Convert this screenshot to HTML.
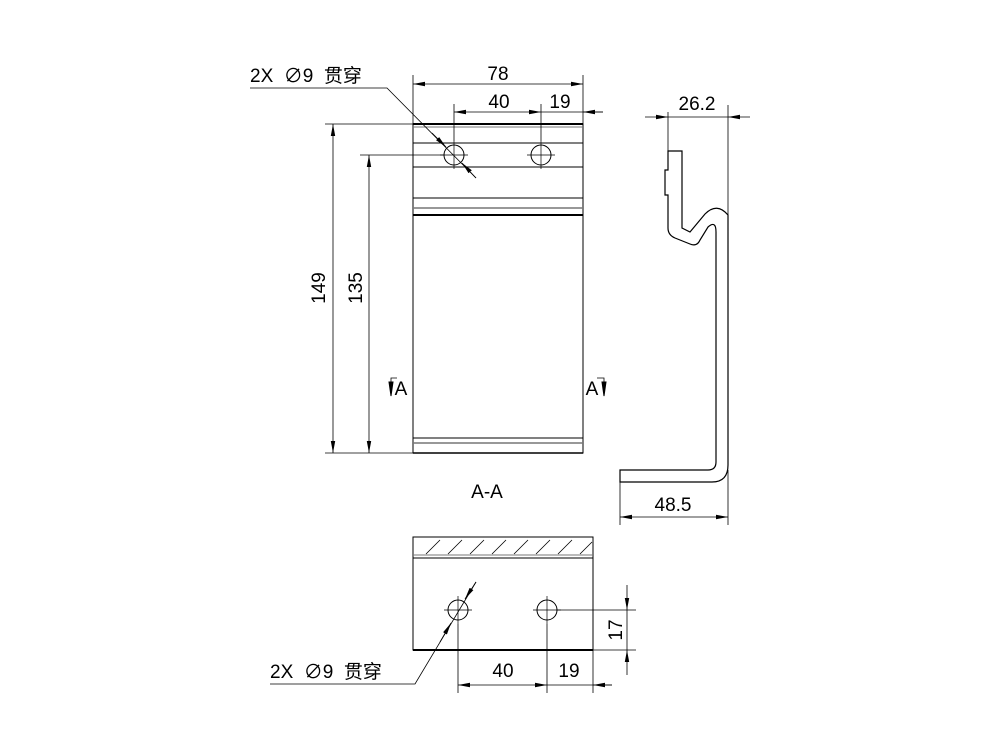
<!DOCTYPE html>
<html><head><meta charset="utf-8"><style>
body{margin:0;background:#fff}
svg{display:block}
text{font-family:"Liberation Sans","Noto Sans CJK SC",sans-serif;font-size:19px;fill:#000}
</style></head><body>
<svg width="1000" height="750" viewBox="0 0 1000 750">
<defs>
<marker id="a" viewBox="0 0 12 6" refX="12" refY="3" markerWidth="12" markerHeight="6" markerUnits="userSpaceOnUse" orient="auto-start-reverse"><path d="M0,0.8 L12,3 L0,5.2Z" fill="#000"/></marker>
</defs>
<g stroke="#000" fill="none" stroke-width="1">
<rect x="413" y="124" width="170" height="329"/>
<line x1="413" y1="124" x2="583" y2="124" stroke-width="2"/>
<line x1="413" y1="127" x2="583" y2="127" stroke="#777"/>
<line x1="413" y1="143" x2="583" y2="143"/>
<line x1="413" y1="167" x2="583" y2="167"/>
<line x1="413" y1="198" x2="583" y2="198"/>
<line x1="413" y1="208" x2="583" y2="208" stroke="#777" stroke-width="1.5"/>
<line x1="413" y1="215" x2="583" y2="215" stroke-width="2"/>
<line x1="413" y1="438" x2="583" y2="438"/>
<line x1="413" y1="443" x2="583" y2="443" stroke="#777" stroke-width="1.5"/>
<line x1="413" y1="453" x2="583" y2="453" stroke-width="1.5"/>
<circle cx="454" cy="155" r="10"/><circle cx="541" cy="155" r="10"/>
<path d="M440,155h28M454,141v28M527,155h28M541,141v28" stroke-width="0.7"/>
<line x1="413" y1="75" x2="413" y2="124" stroke-width="0.8"/>
<line x1="583" y1="75" x2="583" y2="124" stroke-width="0.8"/>
<line x1="454" y1="104" x2="454" y2="141" stroke-width="0.8"/>
<line x1="541" y1="104" x2="541" y2="141" stroke-width="0.8"/>
<line x1="413" y1="84" x2="583" y2="84" marker-start="url(#a)" marker-end="url(#a)" stroke-width="0.8"/>
<line x1="454" y1="112" x2="541" y2="112" marker-start="url(#a)" marker-end="url(#a)" stroke-width="0.8"/>
<line x1="541" y1="112" x2="603" y2="112" stroke-width="0.8"/>
<line x1="603" y1="112" x2="583" y2="112" marker-end="url(#a)" stroke-width="0.8"/>
<line x1="325" y1="124" x2="413" y2="124" stroke-width="0.8"/>
<line x1="360" y1="155" x2="444" y2="155" stroke-width="0.8"/>
<line x1="325" y1="453" x2="413" y2="453" stroke-width="0.8"/>
<line x1="333" y1="124" x2="333" y2="453" marker-start="url(#a)" marker-end="url(#a)" stroke-width="0.8"/>
<line x1="369" y1="155" x2="369" y2="453" marker-start="url(#a)" marker-end="url(#a)" stroke-width="0.8"/>
<polyline points="250,88 387,88 476,178" stroke-width="0.8"/>
<line x1="432" y1="133" x2="446" y2="147" marker-end="url(#a)" stroke-width="0.8"/>
<line x1="476" y1="178" x2="462" y2="163" marker-end="url(#a)" stroke-width="0.8"/>
<path d="M397,378h-6v18M597,378h7v18" stroke-width="0.8"/>
<path d="M389,382l2,14l2,-14z M602,382l2,14l2,-14z" fill="#000"/>
<path d="M668,151 L682,151 L682,228 L690,232 L705,214 Q717,202 728,215 L728,465 Q728,482 712,482 L620,482 L620,470 L708,470 Q716,470 716,462 L716,232 Q716,220 708,227 L700,240 Q697,247 690,244 L675,238 Q668,235 668,228 L668,195 L665,195 L665,170 L668,170 Z" stroke-width="1.2"/>
<line x1="668" y1="112" x2="668" y2="151" stroke-width="0.8"/>
<line x1="728" y1="105" x2="728" y2="215" stroke-width="0.8"/>
<line x1="645" y1="117" x2="668" y2="117" marker-end="url(#a)" stroke-width="0.8"/>
<line x1="668" y1="117" x2="728" y2="117" stroke-width="0.8"/>
<line x1="750" y1="117" x2="728" y2="117" marker-end="url(#a)" stroke-width="0.8"/>
<line x1="620" y1="482" x2="620" y2="525" stroke-width="0.8"/>
<line x1="728" y1="470" x2="728" y2="525" stroke-width="0.8"/>
<line x1="620" y1="517" x2="728" y2="517" marker-start="url(#a)" marker-end="url(#a)" stroke-width="0.8"/>
<rect x="413" y="537" width="180" height="113"/>
<line x1="413" y1="650" x2="593" y2="650" stroke-width="2"/>
<line x1="413" y1="555" x2="593" y2="555" stroke="#777"/>
<line x1="413" y1="558" x2="593" y2="558"/>
<path d="M426,554l14,-14M448,554l14,-14M470,554l14,-14M492,554l14,-14M514,554l14,-14M536,554l14,-14M558,554l14,-14M580,554l12,-12" stroke-width="0.8"/>
<circle cx="458" cy="610" r="10"/><circle cx="547" cy="610" r="10"/>
<path d="M444,610h28M458,596v28M533,610h28M547,596v28" stroke-width="0.7"/>
<line x1="557" y1="610" x2="636" y2="610" stroke-width="0.8"/>
<line x1="593" y1="650" x2="636" y2="650" stroke-width="0.8"/>
<line x1="627" y1="585" x2="627" y2="610" marker-end="url(#a)" stroke-width="0.8"/>
<line x1="627" y1="610" x2="627" y2="650" stroke-width="0.8"/>
<line x1="627" y1="675" x2="627" y2="650" marker-end="url(#a)" stroke-width="0.8"/>
<line x1="458" y1="624" x2="458" y2="693" stroke-width="0.8"/>
<line x1="547" y1="624" x2="547" y2="693" stroke-width="0.8"/>
<line x1="593" y1="650" x2="593" y2="693" stroke-width="0.8"/>
<line x1="458" y1="685" x2="547" y2="685" marker-start="url(#a)" marker-end="url(#a)" stroke-width="0.8"/>
<line x1="547" y1="685" x2="612" y2="685" stroke-width="0.8"/>
<line x1="612" y1="685" x2="593" y2="685" marker-end="url(#a)" stroke-width="0.8"/>
<polyline points="270,684 415,684 476,582" stroke-width="0.8"/>
<line x1="476" y1="582" x2="465" y2="599" marker-end="url(#a)" stroke-width="0.8"/>
<line x1="440" y1="642" x2="451" y2="623" marker-end="url(#a)" stroke-width="0.8"/>
</g>
<text x="498" y="80" text-anchor="middle">78</text>
<text x="499" y="108" text-anchor="middle">40</text>
<text x="560" y="108" text-anchor="middle">19</text>
<text x="697" y="110" text-anchor="middle">26.2</text>
<text x="673" y="511" text-anchor="middle">48.5</text>
<text x="487" y="498" text-anchor="middle">A-A</text>
<text x="401" y="395" text-anchor="middle">A</text>
<text x="592" y="395" text-anchor="middle">A</text>
<text x="250" y="82" xml:space="preserve">2X  ∅9  贯穿</text>
<text x="270" y="678" xml:space="preserve">2X  ∅9  贯穿</text>
<text x="503" y="677" text-anchor="middle">40</text>
<text x="569" y="677" text-anchor="middle">19</text>
<text transform="translate(325,288) rotate(-90)" text-anchor="middle">149</text>
<text transform="translate(362,288) rotate(-90)" text-anchor="middle">135</text>
<text transform="translate(622,630) rotate(-90)" text-anchor="middle">17</text>
</svg>
</body></html>
